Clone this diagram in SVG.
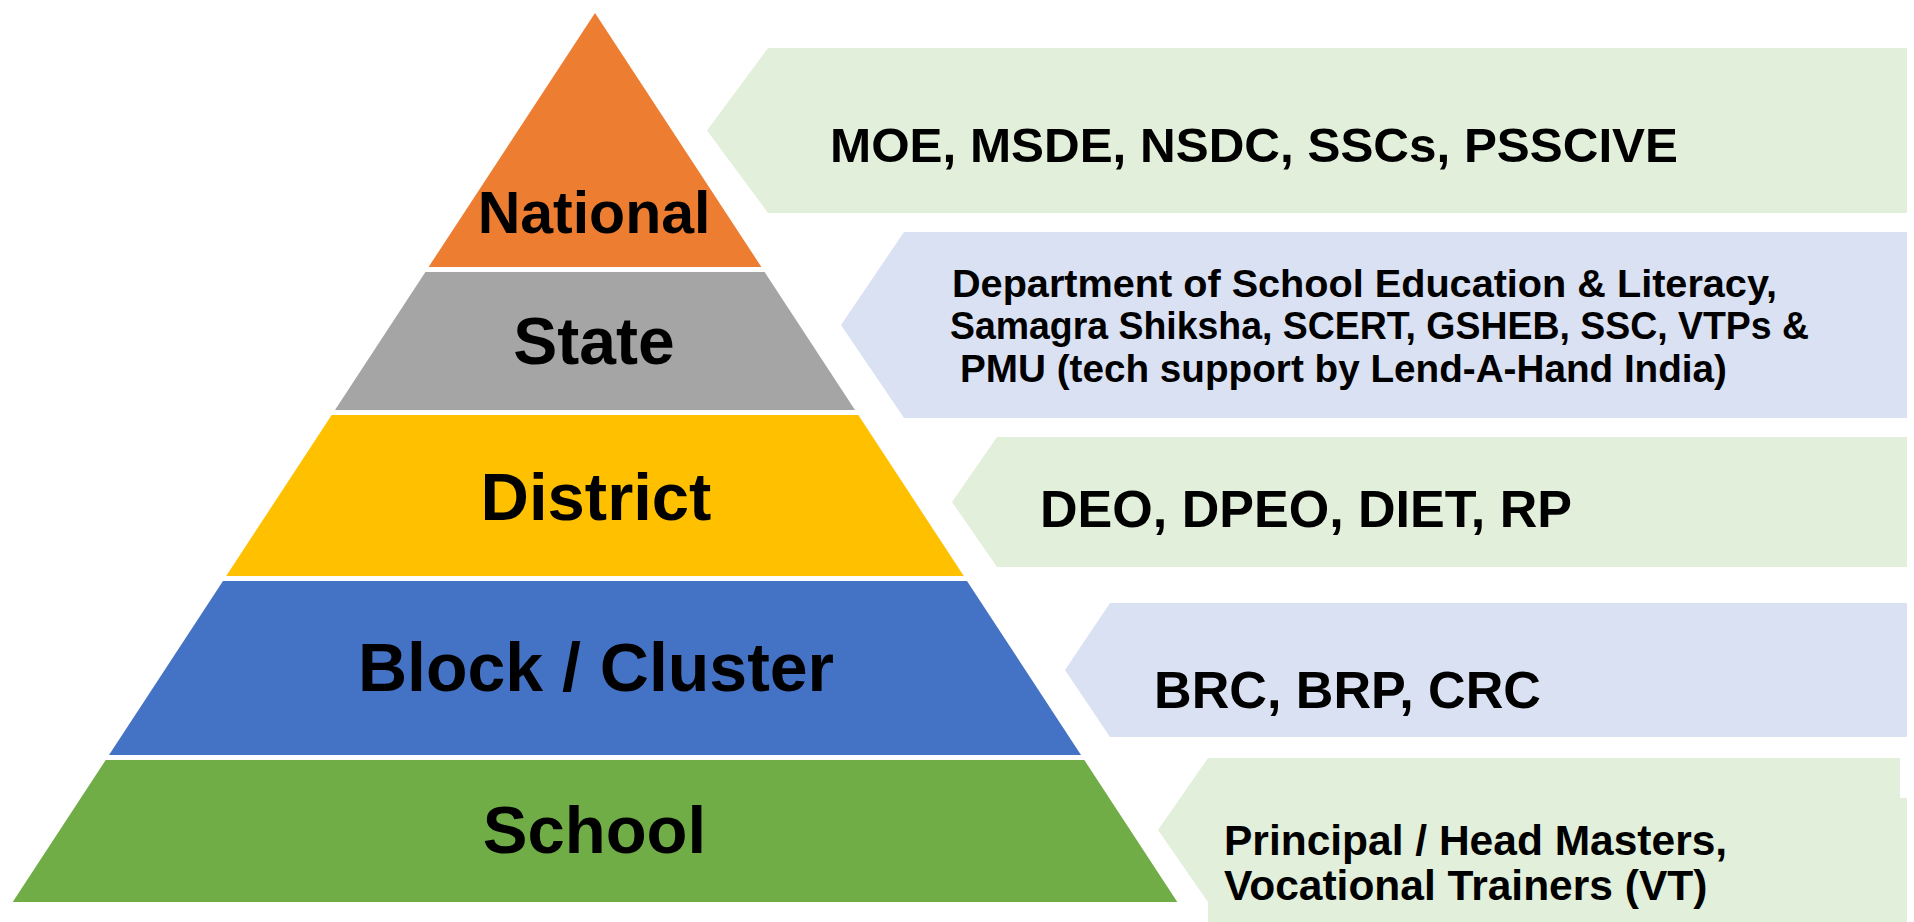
<svg xmlns="http://www.w3.org/2000/svg" width="1914" height="922" viewBox="0 0 1914 922">
<style>
.lvl{font-family:"Liberation Sans",Arial,sans-serif;font-weight:bold;fill:#000;text-anchor:middle}
.desc{font-family:"Liberation Sans",Arial,sans-serif;font-weight:bold;fill:#000}
.lg{fill:#E2EFDA}
.lb{fill:#DAE1F3}
</style>
<rect width="1914" height="922" fill="#FFFFFF"/>
<g id="connectors"></g>
<g id="national">
<polygon points="595,13 761.4,267 428.6,267" fill="#ED7D31"/>
<text class="lvl" x="594" y="233" font-size="59">National</text>
</g>
<g id="state">
<polygon points="425.4,272 764.6,272 855,410 335,410" fill="#A5A5A5"/>
<text class="lvl" x="594" y="364" font-size="66">State</text>
</g>
<g id="district">
<polygon points="331.7,415 858.3,415 963.8,576 226.2,576" fill="#FFC000"/>
<text class="lvl" x="596" y="520" font-size="67">District</text>
</g>
<g id="block">
<polygon points="223,581 967,581 1081,755 109,755" fill="#4472C4"/>
<text class="lvl" x="596" y="691" font-size="68">Block / Cluster</text>
</g>
<g id="school">
<polygon points="105.7,760 1084.3,760 1177.3,902 12.7,902" fill="#70AD47"/>
<text class="lvl" x="594.5" y="853" font-size="67">School</text>
</g>
<g id="national-info">
<polygon class="lg" points="1907,48 768,48 707,130.5 768,213 1907,213"/>
<text class="desc" x="830" y="162" font-size="49" textLength="848" lengthAdjust="spacingAndGlyphs">MOE, MSDE, NSDC, SSCs, PSSCIVE</text>
</g>
<g id="state-info">
<polygon class="lb" points="1907,232 904,232 841,325 904,418 1907,418"/>
<text class="desc" font-size="39" x="952" y="297" textLength="825" lengthAdjust="spacingAndGlyphs">Department of School Education &amp; Literacy,</text>
<text class="desc" font-size="39" x="950" y="339" textLength="859" lengthAdjust="spacingAndGlyphs">Samagra Shiksha, SCERT, GSHEB, SSC, VTPs &amp;</text>
<text class="desc" font-size="39" x="960" y="382" textLength="767" lengthAdjust="spacingAndGlyphs">PMU (tech support by Lend-A-Hand India)</text>
</g>
<g id="district-info">
<polygon class="lg" points="1907,437 997,437 952,502 997,567 1907,567"/>
<text class="desc" x="1040" y="527" font-size="51" textLength="532" lengthAdjust="spacingAndGlyphs">DEO, DPEO, DIET, RP</text>
</g>
<g id="block-info">
<polygon class="lb" points="1907,603 1110,603 1065,670 1110,737 1907,737"/>
<text class="desc" x="1154" y="708" font-size="51" textLength="387" lengthAdjust="spacingAndGlyphs">BRC, BRP, CRC</text>
</g>
<g id="school-info">
<polygon class="lg" points="1900,758 1208,758 1158,830 1208,902 1208,922 1907,922 1907,798 1900,798"/>
<text class="desc" font-size="42.5"><tspan x="1224" y="855">Principal / Head Masters,</tspan><tspan x="1224" y="900">Vocational Trainers (VT)</tspan></text>
</g>
</svg>
